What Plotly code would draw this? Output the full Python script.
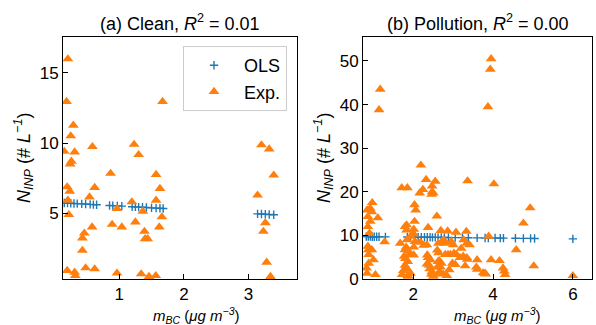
import plotly.graph_objects as go

# ---------------- data ----------------
clean_exp_x = [0.205, 0.185, 1.67, 0.29, 0.25, 0.15, 0.31, 0.585, 1.23, 1.30, 0.26, 0.24,
               0.866, 1.57, 1.63, 0.195, 0.235, 0.62, 0.54, 0.205, 1.195, 1.57, 0.965, 1.365,
               0.22, 1.66, 0.89, 1.25, 1.04, 0.58, 1.62, 0.46, 0.43, 1.39, 1.40, 1.44, 0.43,
               0.195, 0.31, 0.32, 0.48, 0.62, 0.965, 1.34, 1.46, 1.565,
               3.20, 3.32, 3.39, 3.14, 3.26, 3.23, 3.28, 3.34]
clean_exp_y = [15.98, 12.95, 12.95, 11.26, 10.5, 9.4, 9.36, 9.74, 9.9, 9.17, 8.7, 8.5,
               7.84, 7.76, 6.76, 6.88, 6.57, 6.83, 6.16, 5.93, 5.81, 5.93, 5.33, 5.14,
               4.9, 4.74, 4.21, 4.38, 4.02, 4.02, 4.02, 3.59, 3.24, 3.71, 3.19, 3.19, 2.36,
               0.93, 0.81, 0.57, 1.12, 1.05, 0.74, 0.69, 0.5, 0.57,
               9.86, 9.57, 7.71, 6.29, 4.33, 3.71, 1.52, 0.5]

clean_ols_x = [0.15, 0.2, 0.25, 0.3, 0.35, 0.42, 0.48, 0.55, 0.6, 0.65, 0.85, 0.9, 0.97,
               1.04, 1.2, 1.25, 1.3, 1.36, 1.42, 1.5, 1.57, 1.63, 1.68,
               3.14, 3.2, 3.26, 3.32, 3.39]
clean_ols_y = [5.74, 5.73, 5.72, 5.70, 5.69, 5.67, 5.66, 5.64, 5.62, 5.61, 5.56, 5.55, 5.53,
               5.51, 5.47, 5.46, 5.44, 5.43, 5.41, 5.39, 5.37, 5.36, 5.34,
               4.96, 4.95, 4.93, 4.92, 4.90]

poll_exp_x = [3.95, 3.93, 1.17, 1.14, 3.87,
              2.19, 2.32, 2.55, 3.36, 4.02, 1.71, 1.85, 2.24, 2.47, 2.47, 2.46, 2.16, 2.50,
              0.97, 0.92, 2.03, 2.06, 0.84, 0.96, 4.93, 2.59, 1.11, 0.86, 0.92, 2.03, 4.76,
              0.86, 1.83, 1.79, 2.37, 1.83, 0.90, 2.01, 2.01, 2.69, 2.86, 3.33, 3.07, 3.89,
              1.93, 2.76,
              1.28, 1.84, 1.67, 2.04, 2.18, 2.34, 2.63, 2.80, 3.00, 2.72, 2.95, 3.26, 3.34,
              3.41, 3.20, 4.58,
              0.86, 0.96, 0.88, 1.00, 0.88, 1.05, 0.84, 0.83, 0.87,
              1.82, 1.79, 1.88, 1.77, 1.90, 1.80, 1.86, 1.79, 1.84, 1.75, 1.93, 1.72, 1.86,
              2.01, 2.01, 2.26,
              2.37, 2.35, 2.43, 2.34, 2.40, 2.41, 2.47, 2.45, 2.50,
              2.60, 2.63, 2.65, 2.62, 2.60, 2.68, 2.63, 2.70, 2.66, 2.75, 2.80,
              2.93, 2.87, 3.02, 3.08, 2.98, 3.05, 2.90,
              3.17, 3.25, 3.35, 3.30, 3.34,
              3.60, 3.58, 3.60, 3.75, 3.80, 3.81,
              3.95, 4.16, 4.25, 4.28, 4.30,
              5.02, 6.00, 2.50, 1.87, 2.84]
poll_exp_y = [50.5, 48.1, 43.5, 38.8, 39.5,
              26.1, 22.8, 22.4, 22.5, 21.8, 20.9, 20.9, 20.5, 21.3, 20.0, 19.4, 19.7, 19.7,
              17.5, 16.2, 17.0, 15.8, 15.8, 15.4, 16.3, 14.4, 14.0, 14.3, 13.2, 13.2, 12.8,
              12.0, 12.4, 12.0, 11.8, 11.2, 10.5, 11.4, 10.3, 11.1, 11.0, 10.9, 10.7, 9.8,
              9.8, 9.0,
              8.5, 9.0, 8.2, 8.6, 8.4, 7.8, 8.2, 8.2, 7.8, 8.6, 8.6, 9.0, 8.2,
              7.8, 7.0, 6.7,
              7.5, 6.7, 5.6, 4.4, 3.6, 1.0, 1.3, 2.5, 6.7,
              7.3, 6.7, 6.4, 5.2, 5.6, 4.7, 4.0, 3.1, 2.4, 1.9, 1.3, 1.0, 0.8,
              7.3, 5.5, 7.7,
              4.9, 5.5, 4.4, 3.4, 3.1, 2.3, 1.7, 1.1, 1.0,
              6.6, 6.0, 4.2, 4.0, 2.7, 2.7, 1.3, 3.6, 1.7, 1.1, 5.6,
              5.6, 5.6, 5.9, 5.6, 3.6, 3.3, 2.1,
              4.9, 5.2, 4.5, 3.0, 4.9,
              4.4, 2.7, 2.2, 1.4, 1.3, 1.1,
              4.4, 4.2, 2.5, 1.8, 1.0,
              3.0, 0.75, 0.6, 0.6, 0.8]

poll_ols_x = [0.82, 0.87, 0.92, 0.97, 1.02, 1.08, 1.14, 1.3, 1.85, 1.93, 2.05, 2.12, 2.2,
              2.28, 2.35, 2.42, 2.48, 2.55, 2.62, 2.7, 2.78, 2.88, 3.05, 3.23, 3.38, 3.6,
              3.8, 3.88, 4.05, 4.18, 4.26, 4.56, 4.76, 4.94, 5.04, 6.0]
poll_ols_y = [9.72, 9.71, 9.71, 9.70, 9.70, 9.69, 9.69, 9.67, 9.62, 9.61, 9.60, 9.59, 9.58,
              9.57, 9.57, 9.56, 9.55, 9.55, 9.54, 9.53, 9.52, 9.51, 9.50, 9.48, 9.46, 9.44,
              9.42, 9.41, 9.40, 9.38, 9.37, 9.34, 9.32, 9.31, 9.30, 9.20]

titles = ["(a) Clean, <i>R</i><sup>2</sup> = 0.01", "(b) Pollution, <i>R</i><sup>2</sup> = 0.00"]
xlabel = "<i>m<sub>BC</sub></i> (<i>μg m<sup>−3</sup></i>)"
ylabel = "<i>N<sub>INP</sub></i> (# <i>L<sup>−1</sup></i>)"

BLUE = "#1f77b4"
ORANGE = "#ff7f0e"
FONT = "Liberation Sans, Arial, sans-serif"
W, H = 596, 325

fig = go.Figure()

def add_panel(ex, ey, ox, oy, xa, ya, show):
    fig.add_trace(go.Scatter(x=ox, y=oy, mode="markers", name="OLS", showlegend=show,
                             xaxis=xa, yaxis=ya,
                             marker=dict(symbol="cross-thin", size=6, color=BLUE,
                                         line=dict(color=BLUE, width=1.4))))
    fig.add_trace(go.Scatter(x=ex, y=ey, mode="markers", name="Exp.", showlegend=show,
                             xaxis=xa, yaxis=ya,
                             marker=dict(symbol="triangle-up", size=9.5, color=ORANGE,
                                         line=dict(width=0))))

add_panel(clean_exp_x, clean_exp_y, clean_ols_x, clean_ols_y, "x", "y", True)
add_panel(poll_exp_x, poll_exp_y, poll_ols_x, poll_ols_y, "x2", "y2", False)

# plot-area geometry in pixels
L1, R1, L2, R2, T, B = 63, 297, 363, 592, 37, 279
yd = [(H - B) / H, (H - T) / H]

ax_common = dict(showline=True, mirror=True, linecolor="black", linewidth=1,
                 ticks="inside", ticklen=5, tickwidth=1, tickcolor="black",
                 showgrid=False, zeroline=False, automargin=False,
                 tickfont=dict(family=FONT, size=17, color="black"))

fig.update_layout(
    template="none",
    width=W, height=H, autosize=False, margin=dict(l=0, r=0, t=0, b=0, pad=0),
    paper_bgcolor="white", plot_bgcolor="white",
    font=dict(family=FONT, color="black"),
    xaxis=dict(domain=[L1 / W, R1 / W], range=[0.13, 3.75], tickvals=[1, 2, 3],
               anchor="y", **ax_common),
    yaxis=dict(domain=yd, range=[0.33, 17.54], tickvals=[5, 10, 15], anchor="x",
               **ax_common),
    xaxis2=dict(domain=[L2 / W, R2 / W], range=[0.738, 6.48], tickvals=[2, 4, 6],
                anchor="y2", **ax_common),
    yaxis2=dict(domain=yd, range=[0, 55.5], tickvals=[0, 10, 20, 30, 40, 50], anchor="x2",
                **ax_common),
    showlegend=True,
    legend=dict(x=287 / W, xanchor="right", y=(H - 46) / H, yanchor="top",
                bgcolor="rgba(255,255,255,0.8)", bordercolor="#cccccc", borderwidth=1,
                font=dict(family=FONT, size=18, color="black"),
                itemwidth=50, tracegroupgap=2),
)

ann = []
for t, cx in zip(titles, [(L1 + R1) / 2, (L2 + R2) / 2]):
    ann.append(dict(text=t, x=cx / W, y=(H - 22) / H, xref="paper", yref="paper",
                    showarrow=False, xanchor="center", yanchor="middle",
                    font=dict(family=FONT, size=18)))
for cx in [196, 497]:
    ann.append(dict(text=xlabel, x=cx / W, y=(H - 315) / H, xref="paper", yref="paper",
                    showarrow=False, xanchor="center", yanchor="middle",
                    font=dict(family=FONT, size=15)))
for cx in [23, 323]:
    ann.append(dict(text=ylabel, x=cx / W, y=(H - 158) / H, xref="paper", yref="paper",
                    showarrow=False, xanchor="center", yanchor="middle", textangle=-90,
                    font=dict(family=FONT, size=18)))
fig.update_layout(annotations=ann)

fig.write_html("out.html")
